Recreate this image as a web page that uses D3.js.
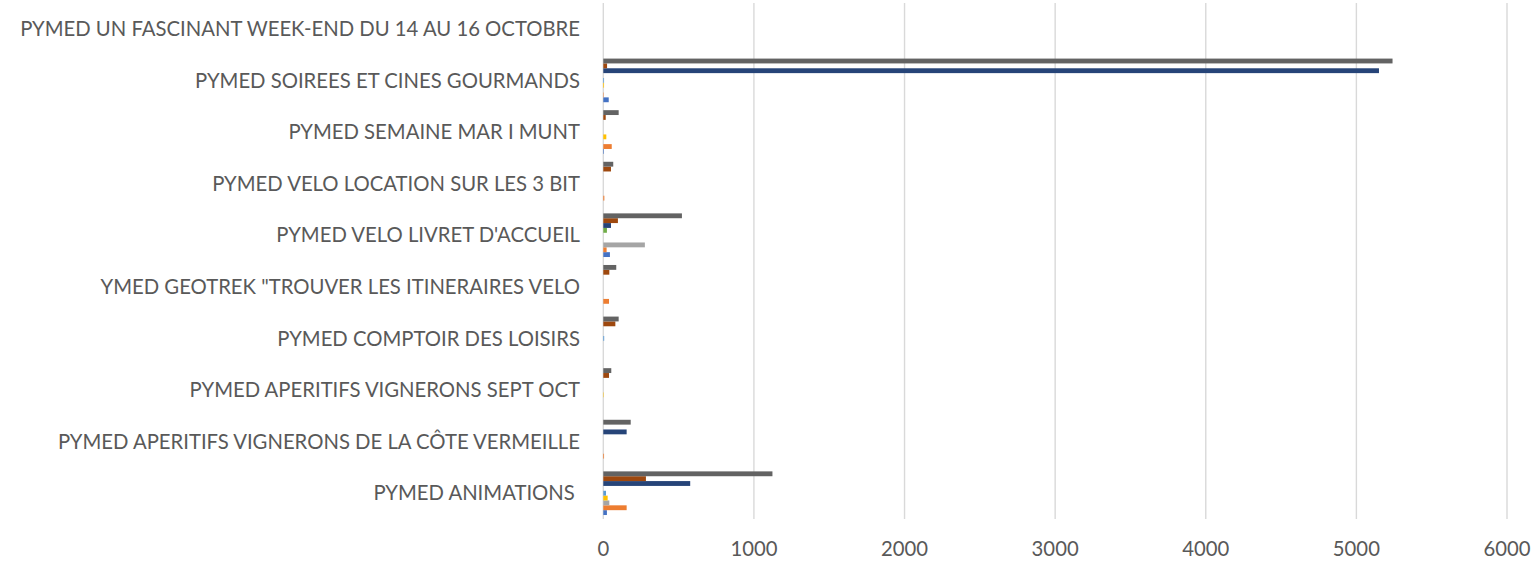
<!DOCTYPE html>
<html>
<head>
<meta charset="utf-8">
<script src="https://cdn.jsdelivr.net/npm/d3@7"></script>
<style>
  body { margin: 0; background: #fff; }
  text { font-family: Lato, "Open Sans", sans-serif; fill: #595959; }
</style>
</head>
<body>
<div id="chart"></div>
<script>
// chart size
var svgWidth = 1538;
var svgHeight = 562;

// categories, top to bottom as drawn
var categories = [
  "PYMED UN FASCINANT WEEK-END DU 14 AU 16 OCTOBRE",
  "PYMED SOIREES ET CINES GOURMANDS",
  "PYMED SEMAINE MAR I MUNT",
  "PYMED VELO LOCATION SUR LES 3 BIT",
  "PYMED VELO LIVRET D'ACCUEIL",
  "YMED GEOTREK \"TROUVER LES ITINERAIRES VELO",
  "PYMED COMPTOIR DES LOISIRS",
  "PYMED APERITIFS VIGNERONS SEPT OCT",
  "PYMED APERITIFS VIGNERONS DE LA CÔTE VERMEILLE",
  "PYMED ANIMATIONS "
];

// series values (same order as categories)
var serie1 = [0, 36, 4, 0, 44, 0, 0, 0, 0, 24];
var serie2 = [0, 3, 56, 7, 22, 38, 0, 0, 5, 155];
var serie3 = [0, 0, 0, 0, 276, 0, 0, 0, 0, 40];
var serie4 = [0, 5, 20, 0, 0, 0, 0, 3, 0, 29];
var serie5 = [0, 5, 0, 0, 0, 0, 6, 0, 0, 18];
var serie6 = [0, 0, 0, 0, 24, 0, 0, 0, 0, 0];
var serie7 = [0, 5150, 0, 0, 51, 0, 0, 0, 155, 577];
var serie8 = [0, 25, 16, 51, 97, 40, 80, 38, 0, 283];
var serie9 = [0, 5240, 102, 66, 522, 86, 102, 53, 182, 1123];

var seriesNames = ["Série1", "Série2", "Série3", "Série4", "Série5", "Série6", "Série7", "Série8", "Série9"];
var seriesValues = [serie1, serie2, serie3, serie4, serie5, serie6, serie7, serie8, serie9];
var colors = ["#4472C4", "#ED7D31", "#A5A5A5", "#FFC000", "#5B9BD5", "#70AD47", "#264478", "#9E480E", "#636363"];

var xTicks = [0, 1000, 2000, 3000, 4000, 5000, 6000];

// plot area
var plot = { left: 603.3, right: 1507, top: 3, bottom: 519 };

var svg = d3.select("#chart").append("svg")
  .attr("width", svgWidth)
  .attr("height", svgHeight);

var x = d3.scaleLinear()
  .domain([0, 6000])
  .range([plot.left, plot.right]);

var y = d3.scaleBand()
  .domain(categories)
  .range([plot.top, plot.bottom])
  .padding(0);

// first series sits at the bottom of each group (Excel style)
var ySub = d3.scaleBand()
  .domain(seriesNames.slice().reverse())
  .range([0, y.bandwidth()])
  .paddingInner(0)
  .paddingOuter(0.82);

// gridlines
svg.append("g").selectAll("line")
  .data(xTicks)
  .enter()
  .append("line")
  .attr("x1", d => x(d))
  .attr("x2", d => x(d))
  .attr("y1", plot.top)
  .attr("y2", plot.bottom)
  .attr("stroke", "#D9D9D9")
  .attr("stroke-width", 1.4);

// bars
var rows = [];
seriesNames.forEach((s, i) => {
  categories.forEach((c, j) => {
    rows.push({ serie: s, cat: c, value: seriesValues[i][j], color: colors[i] });
  });
});

svg.append("g").selectAll("rect")
  .data(rows)
  .enter()
  .append("rect")
  .attr("x", x(0))
  .attr("y", d => y(d.cat) + ySub(d.serie))
  .attr("width", d => x(d.value) - x(0))
  .attr("height", ySub.bandwidth())
  .attr("fill", d => d.color);

// category labels
svg.append("g").selectAll("text")
  .data(categories)
  .enter()
  .append("text")
  .attr("x", 580)
  .attr("y", d => y(d) + y.bandwidth() / 2)
  .attr("dy", "0.35em")
  .attr("text-anchor", "end")
  .style("font-size", "20.3px")
  .style("white-space", "pre")
  .text(d => d);

// x tick labels
svg.append("g").selectAll("text")
  .data(xTicks)
  .enter()
  .append("text")
  .attr("x", d => x(d))
  .attr("y", 549)
  .attr("dy", "0.35em")
  .attr("text-anchor", "middle")
  .style("font-size", "20.3px")
  .text(d => d);
</script>
</body>
</html>
